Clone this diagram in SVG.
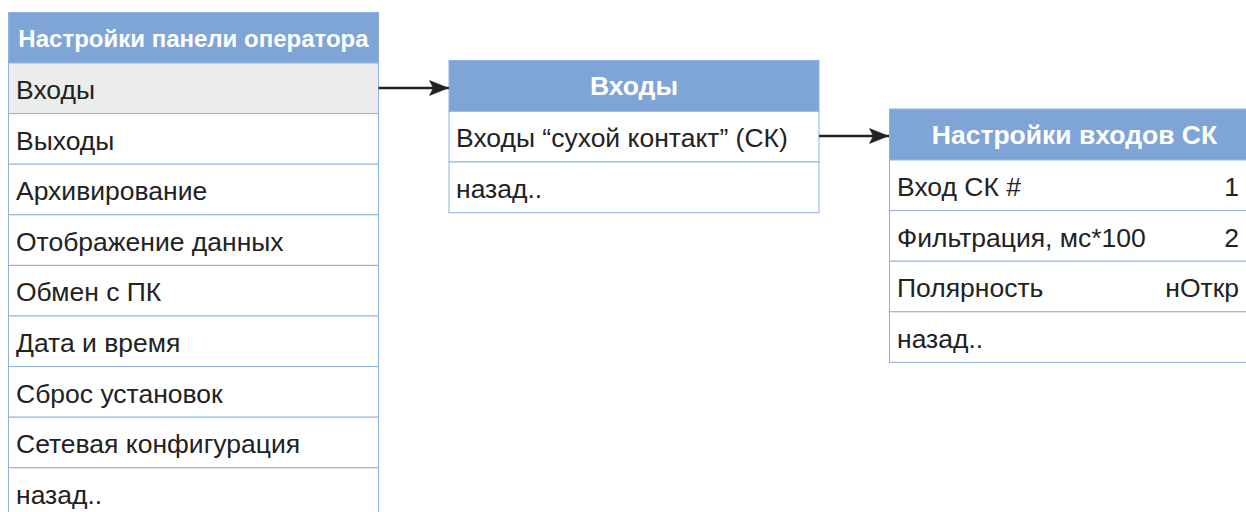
<svg xmlns="http://www.w3.org/2000/svg" width="1246" height="512" viewBox="0 0 1246 512">
<defs>
<style>
.hdr{fill:#7fa4d6;stroke:#8fb1e0;stroke-width:1}
.row{fill:#ffffff;stroke:#8fb1e0;stroke-width:1}
.sel{fill:#ebecec;stroke:#8fb1e0;stroke-width:1}
.ht{font-family:"Liberation Sans",Arial,sans-serif;font-size:26.5px;font-weight:bold;fill:#ffffff;text-anchor:middle}
.ht2{font-size:24px}
.t{font-family:"Liberation Sans",Arial,sans-serif;font-size:26.5px;fill:#222222}
.r{text-anchor:end}
.conn{stroke:#222222;stroke-width:2.5;fill:none}
</style>
<marker id="ah" markerWidth="20" markerHeight="16" refX="20" refY="8" orient="auto" markerUnits="userSpaceOnUse" viewBox="0 0 20 16">
<path d="M0,0 L20,8 L0,16 L4,8 Z" fill="#222222"/>
</marker>
</defs>
<rect width="1246" height="512" fill="#ffffff"/>
<g id="panel-settings">
<rect class="hdr" x="8.5" y="12.5" width="370" height="50.5"/>
<text class="ht ht2" x="193.5" y="46.5">Настройки панели оператора</text>
<rect class="sel" x="8.5" y="63" width="370" height="50.6"/>
<text class="t" x="16" y="99">Входы</text>
<rect class="row" x="8.5" y="113.6" width="370" height="50.6"/>
<text class="t" x="16" y="149.6">Выходы</text>
<rect class="row" x="8.5" y="164.2" width="370" height="50.6"/>
<text class="t" x="16" y="200.2">Архивирование</text>
<rect class="row" x="8.5" y="214.8" width="370" height="50.6"/>
<text class="t" x="16" y="250.8">Отображение данных</text>
<rect class="row" x="8.5" y="265.4" width="370" height="50.6"/>
<text class="t" x="16" y="301.4">Обмен с ПК</text>
<rect class="row" x="8.5" y="316" width="370" height="50.6"/>
<text class="t" x="16" y="352">Дата и время</text>
<rect class="row" x="8.5" y="366.6" width="370" height="50.6"/>
<text class="t" x="16" y="402.6">Сброс установок</text>
<rect class="row" x="8.5" y="417.2" width="370" height="50.6"/>
<text class="t" x="16" y="453.2">Сетевая конфигурация</text>
<rect class="row" x="8.5" y="467.8" width="370" height="50.6"/>
<text class="t" x="16" y="503.8">назад..</text>
</g>
<g id="inputs">
<rect class="hdr" x="449" y="60.5" width="370" height="50.8"/>
<text class="ht" x="634" y="95">Входы</text>
<rect class="row" x="449" y="111.3" width="370" height="50.7"/>
<text class="t" x="456" y="147.3">Входы “сухой контакт” (СК)</text>
<rect class="row" x="449" y="162" width="370" height="50.7"/>
<text class="t" x="456" y="198">назад..</text>
</g>
<g id="dry-contact-settings">
<rect class="hdr" x="889.5" y="109" width="370" height="51"/>
<text class="ht" x="1074.5" y="143.5">Настройки входов СК</text>
<rect class="row" x="889.5" y="160" width="370" height="50.6"/>
<text class="t" x="897" y="196">Вход СК #</text>
<text class="t r" x="1239" y="196">1</text>
<rect class="row" x="889.5" y="210.6" width="370" height="50.6"/>
<text class="t" x="897" y="246.6">Фильтрация, мс*100</text>
<text class="t r" x="1239" y="246.6">2</text>
<rect class="row" x="889.5" y="261.2" width="370" height="50.6"/>
<text class="t" x="897" y="297.2">Полярность</text>
<text class="t r" x="1239" y="297.2">нОткр</text>
<rect class="row" x="889.5" y="311.8" width="370" height="50.6"/>
<text class="t" x="897" y="347.8">назад..</text>
</g>
<g id="connectors">
<path class="conn" d="M378.5,88 L449,88" marker-end="url(#ah)"/>
<path class="conn" d="M819,136 L889,136" marker-end="url(#ah)"/>
</g>
</svg>
